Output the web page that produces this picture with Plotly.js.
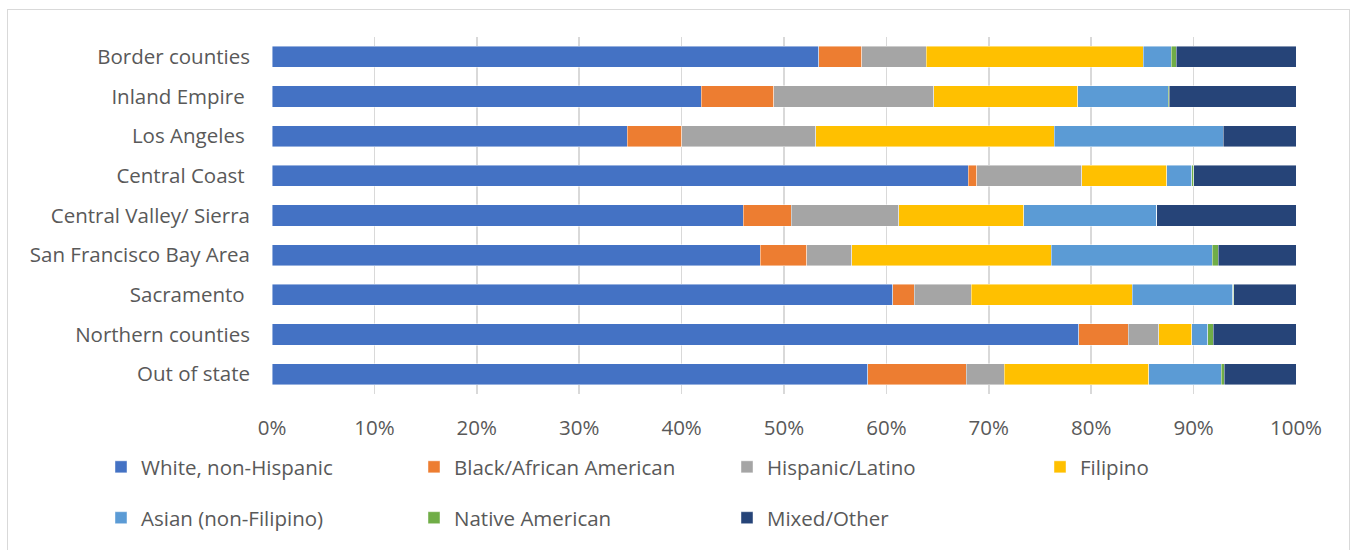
<!DOCTYPE html>
<html>
<head>
<meta charset="utf-8">
<script src="https://cdn.plot.ly/plotly-3.0.1.min.js"></script>
<style>
  html, body { margin: 0; padding: 0; background: #ffffff; }
  #chart { width: 1353px; height: 550px; position: relative; }
  #frame { position: absolute; left: 7px; top: 9px; width: 1343px; height: 545px; border: 1.5px solid #d9d9d9; box-sizing: border-box; pointer-events: none; }
</style>
</head>
<body>
<div id="chart"><div id="frame"></div></div>
<script>
const regions = ["Border counties", "Inland Empire\u00a0", "Los Angeles\u00a0", "Central Coast\u00a0",
  "Central Valley/ Sierra", "San Francisco Bay Area", "Sacramento\u00a0", "Northern counties", "Out of state"];

const seriesNames = ["White, non-Hispanic", "Black/African American", "Hispanic/Latino", "Filipino",
  "Asian (non-Filipino)", "Native American", "Mixed/Other"];

const white    = [53.4, 41.9, 34.7, 68.0, 46.0, 47.7, 60.6, 78.8, 58.2];
const black    = [4.2, 7.1, 5.3, 0.8, 4.7, 4.5, 2.1, 4.8, 9.6];
const hispanic = [6.3, 15.6, 13.1, 10.3, 10.5, 4.4, 5.6, 3.0, 3.7];
const filipino = [21.2, 14.1, 23.3, 8.3, 12.2, 19.5, 15.7, 3.2, 14.1];
const asian    = [2.7, 8.8, 16.5, 2.4, 13.0, 15.7, 9.8, 1.6, 7.1];
const native   = [0.5, 0.1, 0.0, 0.2, 0.0, 0.6, 0.1, 0.5, 0.3];
const mixed    = [11.7, 12.4, 7.1, 10.0, 13.6, 7.6, 6.1, 8.1, 7.0];

const seriesValues = [white, black, hispanic, filipino, asian, native, mixed];
const colors = ["#4472C4", "#ED7D31", "#A5A5A5", "#FFC000", "#5B9BD5", "#70AD47", "#264478"];

const traces = seriesValues.map((vals, i) => ({
  type: "bar",
  orientation: "h",
  name: seriesNames[i],
  y: regions,
  x: vals.map(v => v / 100),
  marker: { color: colors[i], line: { color: "rgba(255,255,255,0.55)", width: 0.8 } },
  legend: i < 4 ? "legend" : "legend2",
  hoverinfo: "x+name"
}));

const font = { family: "'Open Sans', 'Noto Sans', sans-serif", size: 20.5, color: "#595959" };

const layout = {
  width: 1353,
  height: 550,
  margin: { l: 272, r: 57, t: 37, b: 156 },
  paper_bgcolor: "rgba(0,0,0,0)",
  plot_bgcolor: "#ffffff",
  barmode: "stack",
  bargap: 0.47,
  font: font,
  xaxis: {
    range: [0, 1],
    tickvals: [0, 0.1, 0.2, 0.3, 0.4, 0.5, 0.6, 0.7, 0.8, 0.9, 1.0],
    ticktext: ["0%", "10%", "20%", "30%", "40%", "50%", "60%", "70%", "80%", "90%", "100%"],
    showgrid: true,
    gridcolor: "#d9d9d9",
    gridwidth: 1.5,
    zeroline: false,
    showline: false,
    ticks: "",
    ticklabelstandoff: 19,
    tickfont: font,
    fixedrange: true
  },
  yaxis: {
    autorange: "reversed",
    showgrid: false,
    zeroline: false,
    showline: false,
    ticks: "",
    ticklabelstandoff: 21,
    tickfont: font,
    fixedrange: true
  },
  legend: {
    orientation: "h",
    x: -0.164,
    xanchor: "left",
    y: -0.2045,
    yanchor: "middle",
    entrywidth: 268,
    entrywidthmode: "pixels",
    font: font,
    bgcolor: "rgba(0,0,0,0)",
    traceorder: "normal"
  },
  legend2: {
    orientation: "h",
    x: -0.167,
    xanchor: "left",
    y: -0.347,
    yanchor: "middle",
    entrywidth: 268,
    entrywidthmode: "pixels",
    font: font,
    bgcolor: "rgba(0,0,0,0)",
    traceorder: "normal"
  },
  showlegend: true
};

Plotly.newPlot("chart", traces, layout, { displayModeBar: false, staticPlot: true });
</script>
</body>
</html>
